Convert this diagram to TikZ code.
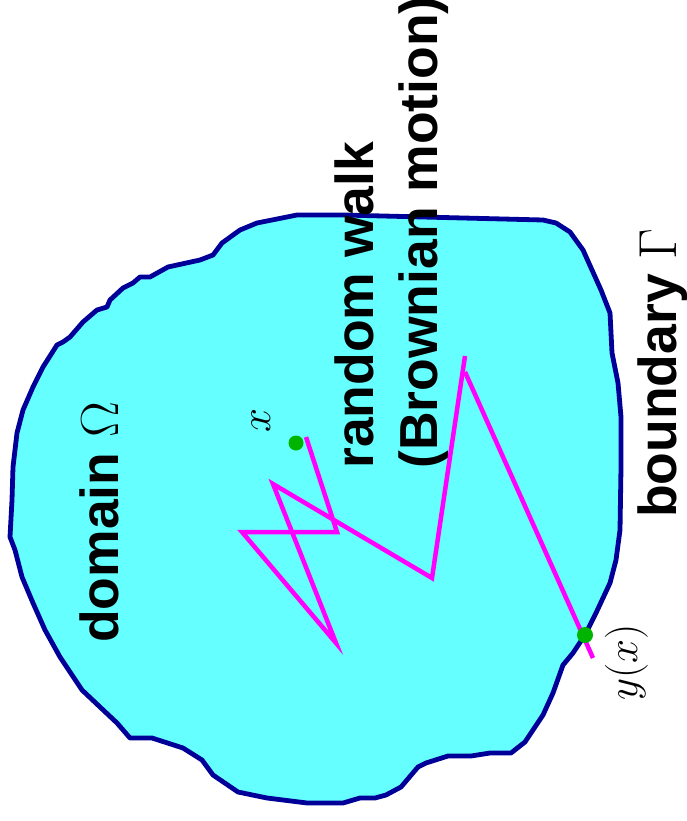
\documentclass[tikz,border=0pt]{standalone}
\usepackage{fix-cm}
\usepackage{fontspec}
\newfontfamily\lsans{Liberation Sans}
\definecolor{domfill}{RGB}{102,255,255}
\definecolor{domline}{RGB}{0,0,153}
\definecolor{walk}{RGB}{255,0,255}
\definecolor{dotgreen}{RGB}{0,180,0}
\tikzset{
  bigtext/.style={rotate=90, anchor=base west, inner sep=0pt, font=\lsans\bfseries\fontsize{53.5}{64}\selectfont},
  mathlabel/.style={rotate=90, anchor=base west, inner sep=0pt, font=\fontsize{43}{50}\selectfont},
  walkline/.style={walk, line width=4.5pt, line join=miter},
  dotmark/.style={circle, fill=dotgreen, inner sep=0pt, minimum size=#1},
}
\begin{document}
\begin{tikzpicture}[x=1pt,y=-1pt]
\useasboundingbox (0,0) rectangle (686,821);
% domain
\draw[fill=domfill, draw=domline, line width=4.8pt, line join=round]
 (297,215) -- (343,215) -- (543,220) -- (556,223) -- (570,232) -- (583,250) -- (601,290) -- (610,313) -- (612,353) -- (618,383) -- (621,417) -- (621,467) -- (620,530) -- (616,560) -- (610,583) -- (596,613) -- (585,635) -- (573,653) -- (563,665) -- (553,693) -- (543,715) -- (525,742) -- (511,753) -- (490,753) -- (471,756) -- (448,756) -- (426,763) -- (418,767) -- (401,787) -- (386,795) -- (375,798) -- (360,798) -- (343,803) -- (307,803) -- (267,798) -- (238,792) -- (213,775) -- (202,760) -- (183,748) -- (152,738) -- (130,738) -- (117,723) -- (100,707) -- (82,690) -- (60,657) -- (45,630) -- (33,603) -- (22,577) -- (15,550) -- (10,537) -- (12,500) -- (13,467) -- (17,433) -- (23,410) -- (33,387) -- (43,367) -- (57,345) -- (63,342) -- (70,337) -- (83,322) -- (97,310) -- (107,307) -- (110,300) -- (123,288) -- (133,283) -- (140,277) -- (150,277) -- (168,267) -- (200,260) -- (213,255) -- (222,243) -- (240,230) -- (257,223) -- cycle;
% texts
\node[bigtext] (dom) at (118,643) {domain $\Omega$};
\node[bigtext] (rw) at (373,469) {random walk};
\node[bigtext] (bm) at (437,469) {(Brownian motion)};
\node[bigtext] (bd) at (676,518) {boundary $\Gamma$};
% walk
\coordinate (w0) at (306,437);
\coordinate (w1) at (337,532);
\coordinate (w2) at (242,532);
\coordinate (w3) at (336,643);
\coordinate (w4) at (273,484);
\coordinate (w5) at (432,578);
\coordinate (w6) at (465,356);
\coordinate (w7) at (465,372);
\coordinate (w8) at (593,658);
\draw[walkline] (w0) -- (w1) -- (w2) -- (w3) -- (w4) -- (w5) -- (w6);
\draw[walkline] (w7) -- (w8);
% points
\node[dotmark=15pt] (px) at (296,443) {};
\node[dotmark=16pt] (py) at (585,635) {};
\node[mathlabel] (lx) at (270,433) {$x$};
\node[mathlabel] (ly) at (637,701) {$y(x)$};
\end{tikzpicture}
\end{document}
